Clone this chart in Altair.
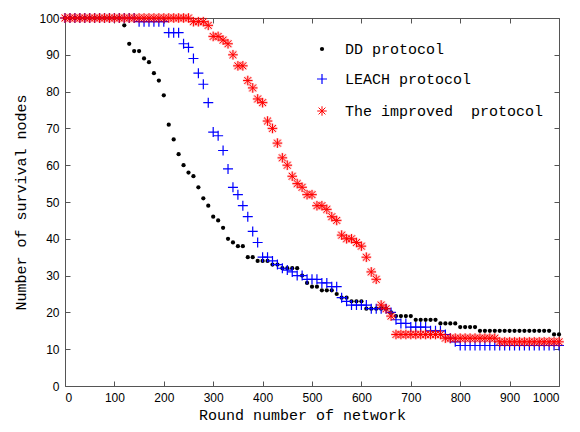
import altair as alt
import pandas as pd

# ---------------- data ----------------
rounds = list(range(0, 1001, 10))

dd_nodes = [
    100, 100, 100, 100, 100, 100, 100, 100, 100, 100,
    100, 100, 98, 93, 91, 91, 89, 88, 85, 83,
    79, 71, 67, 63, 60, 58, 57, 54, 51, 49,
    46, 45, 43, 40, 39, 38, 38, 35, 35, 34,
    34, 34, 33, 33, 32, 32, 32, 32, 30, 28,
    27, 27, 26, 26, 26, 25, 24, 24, 23, 23,
    23, 21, 21, 21, 21, 21, 20, 19, 19, 19,
    19, 18, 18, 18, 18, 18, 17, 17, 17, 17,
    16, 16, 16, 16, 15, 15, 15, 15, 15, 15,
    15, 15, 15, 15, 15, 15, 15, 15, 15, 14,
    14,
]

leach_nodes = [
    100, 100, 100, 100, 100, 100, 100, 100, 100, 100,
    100, 100, 100, 100, 100, 99, 99, 99, 99, 99,
    99, 96, 96, 96, 93, 92, 89, 85, 82, 77,
    69, 68, 64, 59, 54, 52, 49, 46, 42, 39,
    35, 35, 34, 33, 32, 31.5, 31, 30, 30, 29,
    29, 29, 28, 28, 27, 27, 24, 23, 22, 22,
    22, 22, 21, 21, 21, 21, 20, 18, 17, 17,
    16, 16, 16, 16, 15, 15, 15, 14, 13, 12,
    11, 11, 11, 11, 11, 11, 11, 11, 11, 11,
    11, 11, 11, 11, 11, 11, 11, 11, 11, 11,
    11,
]

improved_nodes = [
    100, 100, 100, 100, 100, 100, 100, 100, 100, 100,
    100, 100, 100, 100, 100, 100, 100, 100, 100, 100,
    100, 100, 100, 100, 100, 100, 99, 99, 99, 98,
    95, 95, 94, 93, 90, 87, 87, 83, 81, 78,
    77, 72, 70, 66, 62, 60, 57, 55, 54, 52,
    52, 49, 49, 48, 46, 45, 41, 40, 40, 39,
    38, 35, 31, 29, 22, 21, 19, 14, 14, 14,
    14, 14, 14, 14, 14, 14, 14, 13, 13, 13,
    13, 13, 13, 13, 13, 13, 13, 13, 12, 12,
    12, 12, 12, 12, 12, 12, 12, 12, 12, 12,
    12,
]

legend_labels = ["DD protocol", "LEACH protocol", "The improved\u00a0 protocol"]
x_ticks = list(range(0, 1001, 100))
y_ticks = list(range(0, 101, 10))

# ---------------- styling ----------------
W, H = 494, 368
AXIS_COLOR = "#555555"
PLUS = "M-1,0L1,0M0,-1L0,1"
STAR = "M-1,0L1,0M0,-1L0,1M-0.72,-0.72L0.72,0.72M-0.72,0.72L0.72,-0.72"
MONO = "Liberation Mono"
SANS = "Liberation Sans"


def frame(values):
    return pd.DataFrame({"round": rounds, "nodes": values})


xscale = alt.Scale(domain=[0, 1000], nice=False, zero=False)
yscale = alt.Scale(domain=[0, 100], nice=False, zero=False)

tick_style = dict(
    ticks=False, domain=False, grid=True, gridDash=[5, 1000],
    gridColor=AXIS_COLOR, gridOpacity=1, gridWidth=1,
)

x_axis = alt.Axis(
    orient="bottom", values=x_ticks, format="d",
    labelFont=SANS, labelFontSize=12, labelColor="black", labelPadding=6,
    title="Round number of network", titleFont=MONO, titleFontSize=15,
    titleFontWeight="normal", titleColor="black",
    titleX=237, titleY=28, titleBaseline="middle",
    **tick_style,
)
y_axis = alt.Axis(
    orient="left", values=y_ticks, format="d",
    labelFont=SANS, labelFontSize=12, labelColor="black", labelPadding=6,
    title="Number of survival nodes", titleFont=MONO, titleFontSize=15,
    titleFontWeight="normal", titleColor="black", titleAngle=270,
    titleX=-45, titleY=184, titleBaseline="middle",
    **tick_style,
)
x_top = alt.Axis(orient="top", values=x_ticks, labels=False, title=None, **tick_style)
y_right = alt.Axis(orient="right", values=y_ticks, labels=False, title=None, **tick_style)


def enc(axis_x=None, axis_y=None):
    return dict(
        x=alt.X("round:Q", scale=xscale, axis=axis_x),
        y=alt.Y("nodes:Q", scale=yscale, axis=axis_y),
    )


dd_layer = alt.Chart(frame(dd_nodes)).mark_point(
    shape="circle", filled=True, size=18, color="black", opacity=1
).encode(**enc(x_axis, y_axis))

tick_layer = alt.Chart(frame(dd_nodes)).mark_point(opacity=0).encode(**enc(x_top, y_right))

leach_layer = alt.Chart(frame(leach_nodes)).mark_point(
    shape=PLUS, filled=False, size=100, color="#0000ff", strokeWidth=1.2, opacity=1
).encode(**enc())

improved_halo = alt.Chart(frame(improved_nodes)).mark_point(
    shape=STAR, filled=False, size=100, color="#ff0000", strokeWidth=2.6, opacity=0.2
).encode(**enc())

improved_layer = alt.Chart(frame(improved_nodes)).mark_point(
    shape=STAR, filled=False, size=90, color="#ff0000", strokeWidth=1.0, opacity=1
).encode(**enc())

# ---------------- legend ----------------
legend_x_sym = 257
legend_x_text = 280
legend_y = [31, 61, 93]
legend_shapes = [
    dict(shape="circle", filled=True, size=18, color="black"),
    dict(shape=PLUS, filled=False, size=100, color="#0000ff", strokeWidth=1.2),
    dict(shape=STAR, filled=False, size=90, color="#ff0000", strokeWidth=1.0),
]
legend_layers = []
for label, ly, style in zip(legend_labels, legend_y, legend_shapes):
    ldf = pd.DataFrame({"label": [label]})
    legend_layers.append(
        alt.Chart(ldf).mark_point(opacity=1, **style).encode(
            x=alt.value(legend_x_sym), y=alt.value(ly)
        )
    )
    legend_layers.append(
        alt.Chart(ldf).mark_text(
            align="left", baseline="middle", font=MONO, fontSize=15, color="black"
        ).encode(x=alt.value(legend_x_text), y=alt.value(ly), text="label:N")
    )

chart = (
    alt.layer(dd_layer, tick_layer, leach_layer, improved_halo, improved_layer, *legend_layers)
    .resolve_axis(x="independent", y="independent")
    .properties(
        width=W, height=H,
        padding={"left": 57, "top": 10, "right": 13, "bottom": 38},
        autosize=alt.AutoSizeParams(type="none"),
        background="white",
    )
    .configure_view(stroke=AXIS_COLOR, strokeWidth=1)
)

chart.save("out.html", embed_options={"renderer": "svg", "actions": False})
